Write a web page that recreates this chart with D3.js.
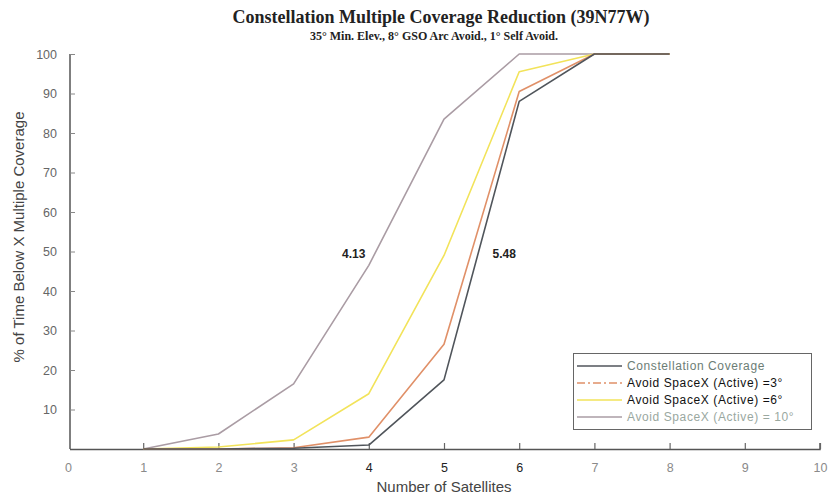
<!DOCTYPE html>
<html><head><meta charset="utf-8">
<script src="https://cdn.jsdelivr.net/npm/d3@7"></script>
<style>body{margin:0;background:#fff}svg{display:block}</style>
</head><body>
<svg id="c" width="828" height="498"></svg>
<script>
const xTicks = [0,1,2,3,4,5,6,7,8,9,10];
const yTicks = [10,20,30,40,50,60,70,80,90,100];
const seriesNames = ["Constellation Coverage","Avoid SpaceX (Active) =3°","Avoid SpaceX (Active) =6°","Avoid SpaceX (Active) = 10°"];
const satellites = [1,2,3,4,5,6,7,8];
const coverage   = [0,0,0.2,1,17.5,88,100,100];
const avoid3     = [0,0,0.3,3,26.5,90.5,100,100];
const avoid6     = [0,0.5,2.3,14,49,95.5,100,100];
const avoid10    = [0,3.8,16.5,46.5,83.5,100,100,100];
const annotations = [{x:3.8,y:50,t:"4.13"},{x:5.8,y:50,t:"5.48"}];

const colors = ["#50555b","#e09068","#f2e35a","#aa9ca4"];
const textColors = ["#6c7d75","#111","#111","#9aa89f"];
const allSeries = [coverage, avoid3, avoid6, avoid10];

const svg = d3.select("#c");
const x = d3.scaleLinear().domain([0,10]).range([68,820]);
const y = d3.scaleLinear().domain([0,100]).range([449,54]);

// title
svg.append("text").attr("x",441).attr("y",23).attr("text-anchor","middle")
  .attr("font-family","Liberation Serif, serif").attr("font-weight","bold").attr("font-size",18)
  .attr("fill","#222").text("Constellation Multiple Coverage Reduction (39N77W)");
svg.append("text").attr("x",434).attr("y",40).attr("text-anchor","middle")
  .attr("font-family","Liberation Serif, serif").attr("font-weight","bold").attr("font-size",12)
  .attr("fill","#222").text("35° Min. Elev., 8° GSO Arc Avoid., 1° Self Avoid.");

// axes
const xAxis = d3.axisBottom(x).tickValues(xTicks).tickSize(-6).tickPadding(14).tickFormat(d3.format("d"));
const gx = svg.append("g").attr("transform","translate(0,449)").call(xAxis);
gx.select(".domain").attr("d","M70,0.5H820V-6").attr("stroke","#555").attr("stroke-width",1.5);
gx.selectAll(".tick line").attr("stroke","#666").attr("stroke-width",1.2).filter(d=>d===0).remove();
gx.selectAll(".tick text").attr("font-family","Liberation Sans, Arial, sans-serif").attr("font-size",12.5)
  .attr("fill",d=>(d>=4&&d<=6)?"#222":"#8a8a8a");

const yAxis = d3.axisLeft(y).tickValues(yTicks).tickSize(-5).tickPadding(13);
const gy = svg.append("g").attr("transform","translate(70,0)").call(yAxis);
gy.select(".domain").attr("d","M0,449V54").attr("stroke","#555").attr("stroke-width",1.5);
gy.selectAll(".tick line").attr("stroke","#888").attr("stroke-width",1);
gy.selectAll(".tick text").attr("font-family","Liberation Sans, Arial, sans-serif").attr("font-size",12.5)
  .attr("fill","#666");

// axis labels
svg.append("text").attr("transform","translate(24,237) rotate(-90)").attr("text-anchor","middle")
  .attr("font-family","Liberation Sans, Arial, sans-serif").attr("font-size",15).attr("fill","#444")
  .text("% of Time Below X Multiple Coverage");
svg.append("text").attr("x",444).attr("y",492).attr("text-anchor","middle")
  .attr("font-family","Liberation Sans, Arial, sans-serif").attr("font-size",15).attr("fill","#444")
  .text("Number of Satellites");

// lines
const line = d3.line().x((d,i)=>x(satellites[i])).y(d=>y(d));
[3,2,1,0].forEach(k=>{
  svg.append("path").datum(allSeries[k]).attr("d",line).attr("fill","none")
    .attr("stroke",colors[k]).attr("stroke-width",1.6).attr("stroke-linejoin","round");
});

// annotations
svg.selectAll("text.ann").data(annotations).enter().append("text").attr("class","ann")
  .attr("x",d=>x(d.x)).attr("y",d=>y(d.y)+6).attr("text-anchor","middle")
  .attr("font-family","Liberation Sans, Arial, sans-serif").attr("font-weight","bold").attr("font-size",12)
  .attr("fill","#222").text(d=>d.t);

// legend
const lg = svg.append("g");
lg.append("rect").attr("x",573.5).attr("y",353.5).attr("width",238).attr("height",76)
  .attr("fill","#fff").attr("stroke","#666").attr("stroke-width",1);
seriesNames.forEach((n,i)=>{
  const yy = 366 + i*17;
  lg.append("line").attr("x1",577).attr("x2",622).attr("y1",yy).attr("y2",yy)
    .attr("stroke",colors[i]).attr("stroke-width",1.6)
    .attr("stroke-dasharray", i===1 ? "8,3,2,3" : null);
  lg.append("text").attr("x",627).attr("y",yy+4).attr("font-family","Liberation Sans, Arial, sans-serif")
    .attr("font-size",12).attr("letter-spacing",0.6).attr("fill",textColors[i]).text(n);
});
</script>
</body></html>
